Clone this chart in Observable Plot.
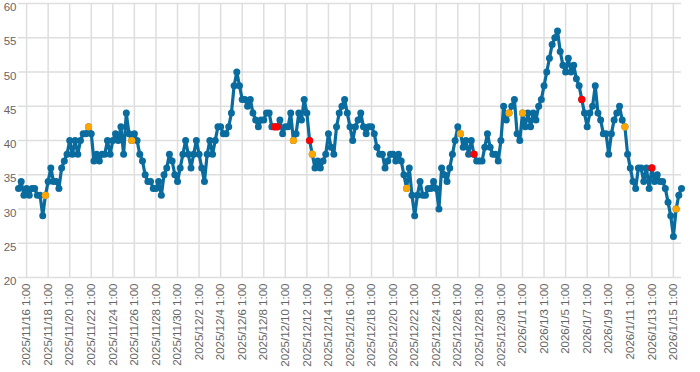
<!DOCTYPE html>
<html>
<head>
<meta charset="utf-8">
<script src="https://cdn.jsdelivr.net/npm/d3@7"></script>
<script src="https://cdn.jsdelivr.net/npm/@observablehq/plot@0.6"></script>
<style>
  html, body { margin: 0; padding: 0; background: #fff; }
  #chart { width: 700px; height: 372px; }
</style>
</head>
<body>
<div id="chart"></div>
<script>
// Series: one reading every 6 hours, starting 2025/11/15 7:00
const seriesStart = "2025/11/15 7:00";
const stepHours = 6;
const values = [
  33,34,32,33,32,33,33,32,32,29,
  32,34,36,34,34,33,36,37,38,40,
  38,40,38,40,41,41,42,41,37,38,
  37,38,38,40,38,40,41,40,42,38,
  44,41,40,41,40,38,37,35,34,34,
  33,33,34,32,35,36,38,37,35,34,
  36,38,40,38,36,38,40,38,36,34,
  38,40,38,40,42,42,41,41,42,44,
  48,50,48,46,46,45,46,44,43,42,
  43,43,44,44,42,42,42,43,41,42,
  42,44,40,41,44,43,46,44,40,38,
  36,37,36,37,38,41,39,38,42,44,
  45,46,44,42,40,42,43,44,42,41,
  42,42,41,39,38,38,36,37,38,38,
  37,38,37,35,33,36,32,29,32,34,
  32,32,33,33,34,33,30,36,35,34,
  36,38,40,42,41,39,40,38,40,38,
  37,37,37,39,41,39,38,38,37,40,
  45,43,44,45,46,41,40,44,42,44,
  42,44,43,45,46,48,50,52,54,55,
  56,53,51,50,52,50,51,49,48,46,
  44,42,44,45,48,44,43,41,41,38,
  41,43,44,45,43,42,38,36,34,33,
  36,36,34,36,33,36,34,35,34,34,
  33,31,29,26,30,32,33
];
// highlighted readings (indices into values)
const orangeIdx = [10, 26, 42, 102, 109, 144, 164, 182, 187, 225, 244];
const redIdx = [95, 96, 108, 169, 209, 235];

const xTickLabels = [
  "2025/11/16 1:00","2025/11/18 1:00","2025/11/20 1:00","2025/11/22 1:00",
  "2025/11/24 1:00","2025/11/26 1:00","2025/11/28 1:00","2025/11/30 1:00",
  "2025/12/2 1:00","2025/12/4 1:00","2025/12/6 1:00","2025/12/8 1:00",
  "2025/12/10 1:00","2025/12/12 1:00","2025/12/14 1:00","2025/12/16 1:00",
  "2025/12/18 1:00","2025/12/20 1:00","2025/12/22 1:00","2025/12/24 1:00",
  "2025/12/26 1:00","2025/12/28 1:00","2025/12/30 1:00","2026/1/1 1:00",
  "2026/1/3 1:00","2026/1/5 1:00","2026/1/7 1:00","2026/1/9 1:00",
  "2026/1/11 1:00","2026/1/13 1:00","2026/1/15 1:00"
];
const yTicks = [20, 25, 30, 35, 40, 45, 50, 55, 60];

const BLUE = "#0a6c9e", ORANGE = "#ffa500", RED = "#ff0000", GRID = "#dedede", TEXT = "#666";

function parseLabel(s) {
  const [dpart, tpart] = s.split(" ");
  const [Y, M, D] = dpart.split("/").map(Number);
  const [h, m] = tpart.split(":").map(Number);
  return new Date(Y, M - 1, D, h, m);
}
const startMs = parseLabel(seriesStart).getTime();
const data = values.map((v, i) => ({ t: new Date(startMs + i * stepHours * 3600e3), v }));
const orangeData = orangeIdx.map(i => data[i]);
const redData = redIdx.map(i => data[i]);
const tickDates = xTickLabels.map(parseLabel);
const labelMap = new Map(tickDates.map((d, i) => [+d, xTickLabels[i]]));

const chart = Plot.plot({
  width: 700,
  height: 372,
  marginLeft: 18,
  marginRight: 19,
  marginTop: 3,
  marginBottom: 95,
  style: { fontFamily: "'Liberation Sans', Arial, sans-serif", background: "#fff", overflow: "visible" },
  x: { type: "time", domain: [data[0].t, data[data.length - 1].t] },
  y: { domain: [20, 60] },
  marks: [
    Plot.gridY(yTicks, { stroke: GRID, strokeOpacity: 1, strokeWidth: 1.5 }),
    Plot.gridX(tickDates, { stroke: GRID, strokeOpacity: 1, strokeWidth: 1.5 }),
    Plot.axisY(yTicks, { tickSize: 0, tickPadding: 2, dy: 4, fontSize: 11.5, fill: TEXT, label: null }),
    Plot.axisX(tickDates, { tickFormat: d => labelMap.get(+d), tickRotate: -90, tickSize: 0, tickPadding: 6, fontSize: 11.5, fill: TEXT, label: null }),
    Plot.line(data, { x: "t", y: "v", stroke: BLUE, strokeWidth: 3.2, curve: "linear" }),
    Plot.dot(data, { x: "t", y: "v", r: 3.5, fill: BLUE, stroke: "none" }),
    Plot.dot(orangeData, { x: "t", y: "v", r: 3.6, fill: ORANGE, stroke: "none" }),
    Plot.dot(redData, { x: "t", y: "v", r: 3.6, fill: RED, stroke: "none" })
  ]
});
document.getElementById("chart").appendChild(chart);
</script>
</body>
</html>
